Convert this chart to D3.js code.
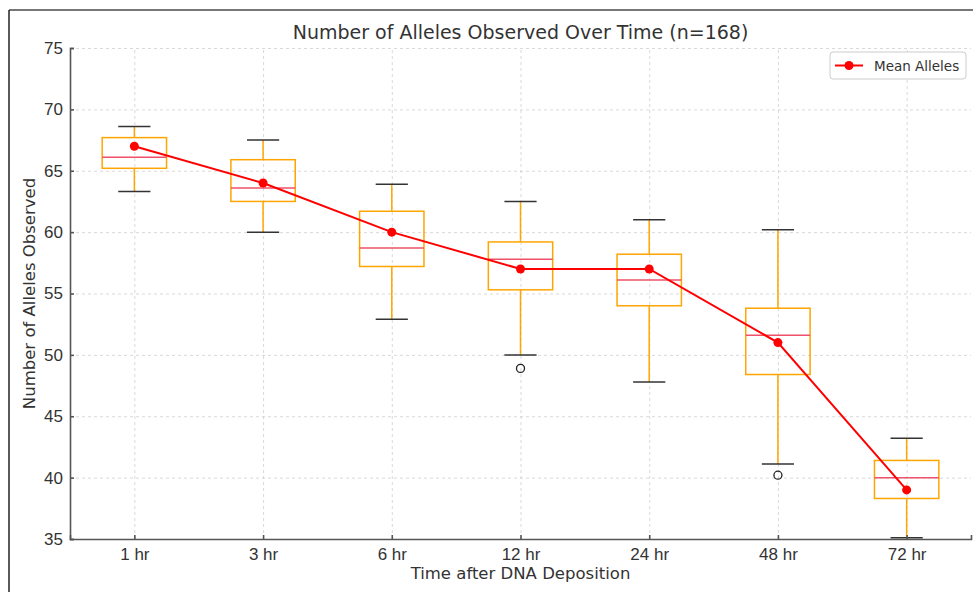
<!DOCTYPE html>
<html>
<head>
<meta charset="utf-8">
<script src="https://cdn.jsdelivr.net/npm/d3@7"></script>
<style>
  body { margin: 0; background: #fff; }
  svg { display: block; font-family: "DejaVu Sans", sans-serif; }
  .grid line { stroke: #cfcfcf; stroke-dasharray: 3,3; stroke-width: 0.8; }
  .grid path { display: none; }
  .axis path, .axis line { stroke: #555; stroke-width: 1.6; }
  .axis text { fill: #333; font-size: 17px; }
</style>
</head>
<body>
<div id="chart"></div>
<script>
// data
var categories = ['1 hr', '3 hr', '6 hr', '12 hr', '24 hr', '48 hr', '72 hr'];
var whiskerLow = [63.3, 60.0, 52.9, 50.0, 47.8, 41.1, 35.1];
var q1 = [65.2, 62.5, 57.2, 55.3, 54.0, 48.4, 38.3];
var median = [66.1, 63.6, 58.7, 57.8, 56.1, 51.6, 40.0];
var q3 = [67.7, 65.9, 61.7, 59.2, 58.2, 53.8, 41.4];
var whiskerHigh = [68.6, 67.5, 63.9, 62.5, 61.0, 60.2, 43.2];
var outliers = [[], [], [], [48.9], [], [40.2], []];
var meanAlleles = [67, 64, 60, 57, 57, 51, 39];
var yTicks = [35, 40, 45, 50, 55, 60, 65, 70, 75];

var width = 974, height = 592;
var margin = {left: 70, right: 3, top: 48, bottom: 53};
var plotW = width - margin.left - margin.right;
var plotH = height - margin.top - margin.bottom;

var svg = d3.select('#chart').append('svg')
    .attr('width', width)
    .attr('height', height);

// outer frame (top + left only)
svg.append('line').attr('x1', 9).attr('x2', 973).attr('y1', 10).attr('y2', 10)
    .attr('stroke', '#777').attr('stroke-width', 2);
svg.append('line').attr('x1', 9).attr('x2', 9).attr('y1', 10).attr('y2', 592)
    .attr('stroke', '#222').attr('stroke-width', 1.5);

var g = svg.append('g').attr('transform', 'translate(' + margin.left + ',' + margin.top + ')');

// positions 1..7, limits 0.5..7.5 like matplotlib
var x = d3.scaleLinear().domain([0.5, categories.length + 0.5]).range([0, plotW]);
var y = d3.scaleLinear().domain([35, 75]).range([plotH, 0]);
var step = x(2) - x(1);

//grid
g.append('g').classed('grid', true)
    .attr('transform', 'translate(0,' + plotH + ')')
    .call(d3.axisBottom(x).tickValues(d3.range(1, categories.length + 1)).tickSize(-plotH).tickFormat(''));
g.append('g').classed('grid', true)
    .call(d3.axisLeft(y).tickValues(yTicks).tickSize(-plotW).tickFormat(''));

//boxes
var boxW = step * 0.5;
var capW = step * 0.25;
var orange = '#ffa500';
for (var i = 0; i < categories.length; i++) {
    var cx = x(i + 1);
    g.append('line').attr('x1', cx).attr('x2', cx).attr('y1', y(whiskerLow[i])).attr('y2', y(q1[i]))
        .attr('stroke', orange).attr('stroke-width', 1.5);
    g.append('line').attr('x1', cx).attr('x2', cx).attr('y1', y(q3[i])).attr('y2', y(whiskerHigh[i]))
        .attr('stroke', orange).attr('stroke-width', 1.5);
    g.append('line').attr('x1', cx - capW / 2).attr('x2', cx + capW / 2)
        .attr('y1', y(whiskerLow[i])).attr('y2', y(whiskerLow[i]))
        .attr('stroke', '#333').attr('stroke-width', 1.5);
    g.append('line').attr('x1', cx - capW / 2).attr('x2', cx + capW / 2)
        .attr('y1', y(whiskerHigh[i])).attr('y2', y(whiskerHigh[i]))
        .attr('stroke', '#333').attr('stroke-width', 1.5);
    g.append('rect')
        .attr('x', cx - boxW / 2)
        .attr('y', y(q3[i]))
        .attr('width', boxW)
        .attr('height', y(q1[i]) - y(q3[i]))
        .attr('fill', 'none')
        .attr('stroke', orange)
        .attr('stroke-width', 1.5);
    g.append('line').attr('x1', cx - boxW / 2).attr('x2', cx + boxW / 2)
        .attr('y1', y(median[i])).attr('y2', y(median[i]))
        .attr('stroke', '#f0506a').attr('stroke-width', 1.5);
    outliers[i].forEach(function(v) {
        g.append('circle').attr('cx', cx).attr('cy', y(v)).attr('r', 4)
            .attr('fill', 'none').attr('stroke', '#222').attr('stroke-width', 1.3);
    });
}

//mean line
var line = d3.line()
    .x(function(d, i) { return x(i + 1); })
    .y(function(d) { return y(d); });
g.append('path').datum(meanAlleles)
    .attr('d', line)
    .attr('fill', 'none')
    .attr('stroke', '#ff0000')
    .attr('stroke-width', 2);
g.selectAll('.mean-dot').data(meanAlleles).enter().append('circle')
    .attr('class', 'mean-dot')
    .attr('cx', function(d, i) { return x(i + 1); })
    .attr('cy', function(d) { return y(d); })
    .attr('r', 4.5)
    .attr('fill', '#ff0000');

//axes
g.append('g').classed('axis', true)
    .attr('transform', 'translate(0,' + plotH + ')')
    .call(d3.axisBottom(x).tickValues(d3.range(1, categories.length + 1))
        .tickSize(-4).tickPadding(9)
        .tickFormat(function(d) { return categories[d - 1]; }));
g.append('g').classed('axis', true)
    .call(d3.axisLeft(y).tickValues(yTicks).tickSize(-4).tickPadding(7));

//title and labels
svg.append('text')
    .attr('x', margin.left + plotW / 2)
    .attr('y', 39)
    .attr('text-anchor', 'middle')
    .attr('fill', '#333')
    .style('font-size', '19px')
    .text('Number of Alleles Observed Over Time (n=168)');
svg.append('text')
    .attr('x', margin.left + plotW / 2)
    .attr('y', 579)
    .attr('text-anchor', 'middle')
    .attr('fill', '#333')
    .style('font-size', '16.5px')
    .text('Time after DNA Deposition');
svg.append('text')
    .attr('transform', 'translate(35,' + (margin.top + plotH / 2) + ') rotate(-90)')
    .attr('text-anchor', 'middle')
    .attr('fill', '#333')
    .style('font-size', '16.5px')
    .text('Number of Alleles Observed');

//legend
var legend = svg.append('g').attr('transform', 'translate(830,52)');
legend.append('rect').attr('width', 136).attr('height', 27).attr('rx', 3)
    .attr('fill', '#fff').attr('stroke', '#ccc').attr('stroke-width', 1);
legend.append('line').attr('x1', 5).attr('x2', 33).attr('y1', 13.5).attr('y2', 13.5)
    .attr('stroke', '#ff0000').attr('stroke-width', 2);
legend.append('circle').attr('cx', 19).attr('cy', 13.5).attr('r', 4.5).attr('fill', '#ff0000');
legend.append('text').attr('x', 44).attr('y', 18.5)
    .attr('fill', '#333').style('font-size', '13.5px').text('Mean Alleles');
</script>
</body>
</html>
